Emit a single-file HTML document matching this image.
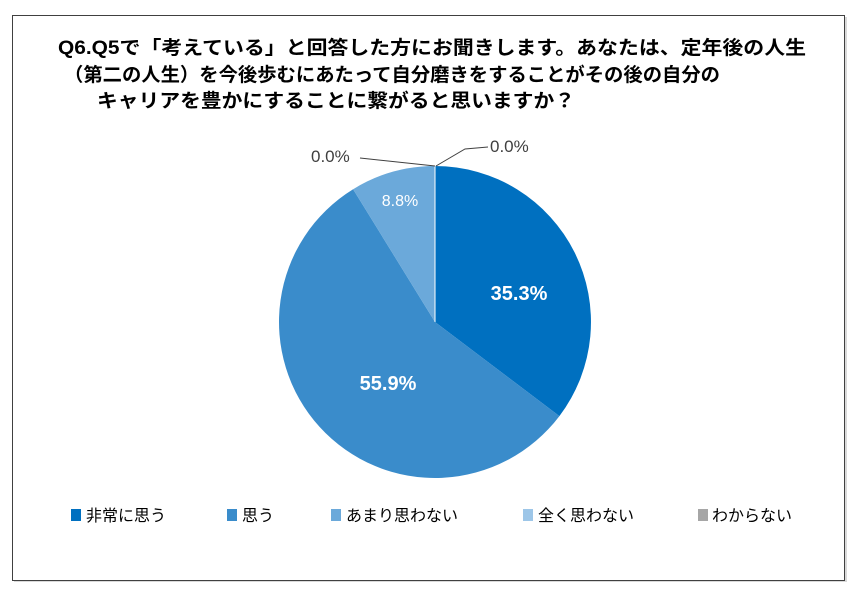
<!DOCTYPE html>
<html><head><meta charset="utf-8"><style>
body{margin:0;width:852px;height:592px;background:#fff;overflow:hidden;font-family:"Liberation Sans","Noto Sans CJK JP",sans-serif}
</style></head><body>
<svg width="852" height="592" viewBox="0 0 852 592" xmlns="http://www.w3.org/2000/svg" style="font-family:'Liberation Sans','Noto Sans CJK JP',sans-serif">
<rect x="14" y="17" width="833" height="565" fill="#d9d9d9"/>
<rect x="12.5" y="15.5" width="832" height="565" fill="#fff" stroke="#404040" stroke-width="1"/>
<g font-weight="bold" font-size="19" fill="#000" text-anchor="middle">
<text x="432" y="54" textLength="748" lengthAdjust="spacingAndGlyphs">Q6.Q5で「考えている」と回答した方にお聞きします。あなたは、定年後の人生</text>
<text x="392" y="81" textLength="656" lengthAdjust="spacingAndGlyphs">（第二の人生）を今後歩むにあたって自分磨きをすることがその後の自分の</text>
<text x="336" y="107" textLength="478" lengthAdjust="spacingAndGlyphs">キャリアを豊かにすることに繋がると思いますか？</text>
</g>
<path d="M435,322 L435,166 A156,156 0 0 1 559.4,416.1 Z" fill="#0070C0"/>
<path d="M435,322 L559.4,416.1 A156,156 0 1 1 353.1,189.2 Z" fill="#3A8CCB"/>
<path d="M435,322 L353.1,189.2 A156,156 0 0 1 435,166 Z" fill="#6BA9DA"/>
<line x1="435" y1="166" x2="435" y2="322" stroke="#fff" stroke-width="1"/>
<polyline points="360,158 435,166" fill="none" stroke="#404040" stroke-width="1"/>
<polyline points="488,147 465,149 436,166" fill="none" stroke="#404040" stroke-width="1"/>
<g font-size="17" fill="#404040">
<text x="311" y="162">0.0%</text>
<text x="490" y="152">0.0%</text>
</g>
<text x="519" y="300" font-size="20" font-weight="bold" fill="#fff" text-anchor="middle">35.3%</text>
<text x="388" y="390" font-size="20" font-weight="bold" fill="#fff" text-anchor="middle">55.9%</text>
<text x="400" y="206" font-size="16" fill="#fff" text-anchor="middle">8.8%</text>
<g font-size="16" fill="#000">
<rect x="71" y="509" width="10" height="12" fill="#0070C0"/><text x="86" y="521">非常に思う</text>
<rect x="227" y="509" width="10" height="12" fill="#3A8CCB"/><text x="242" y="521">思う</text>
<rect x="331" y="509" width="10" height="12" fill="#6BA9DA"/><text x="346" y="521">あまり思わない</text>
<rect x="523" y="509" width="10" height="12" fill="#9DC6E8"/><text x="538" y="521">全く思わない</text>
<rect x="698" y="509" width="10" height="12" fill="#A6A6A6"/><text x="712" y="521">わからない</text>
</g>
</svg>
</body></html>
